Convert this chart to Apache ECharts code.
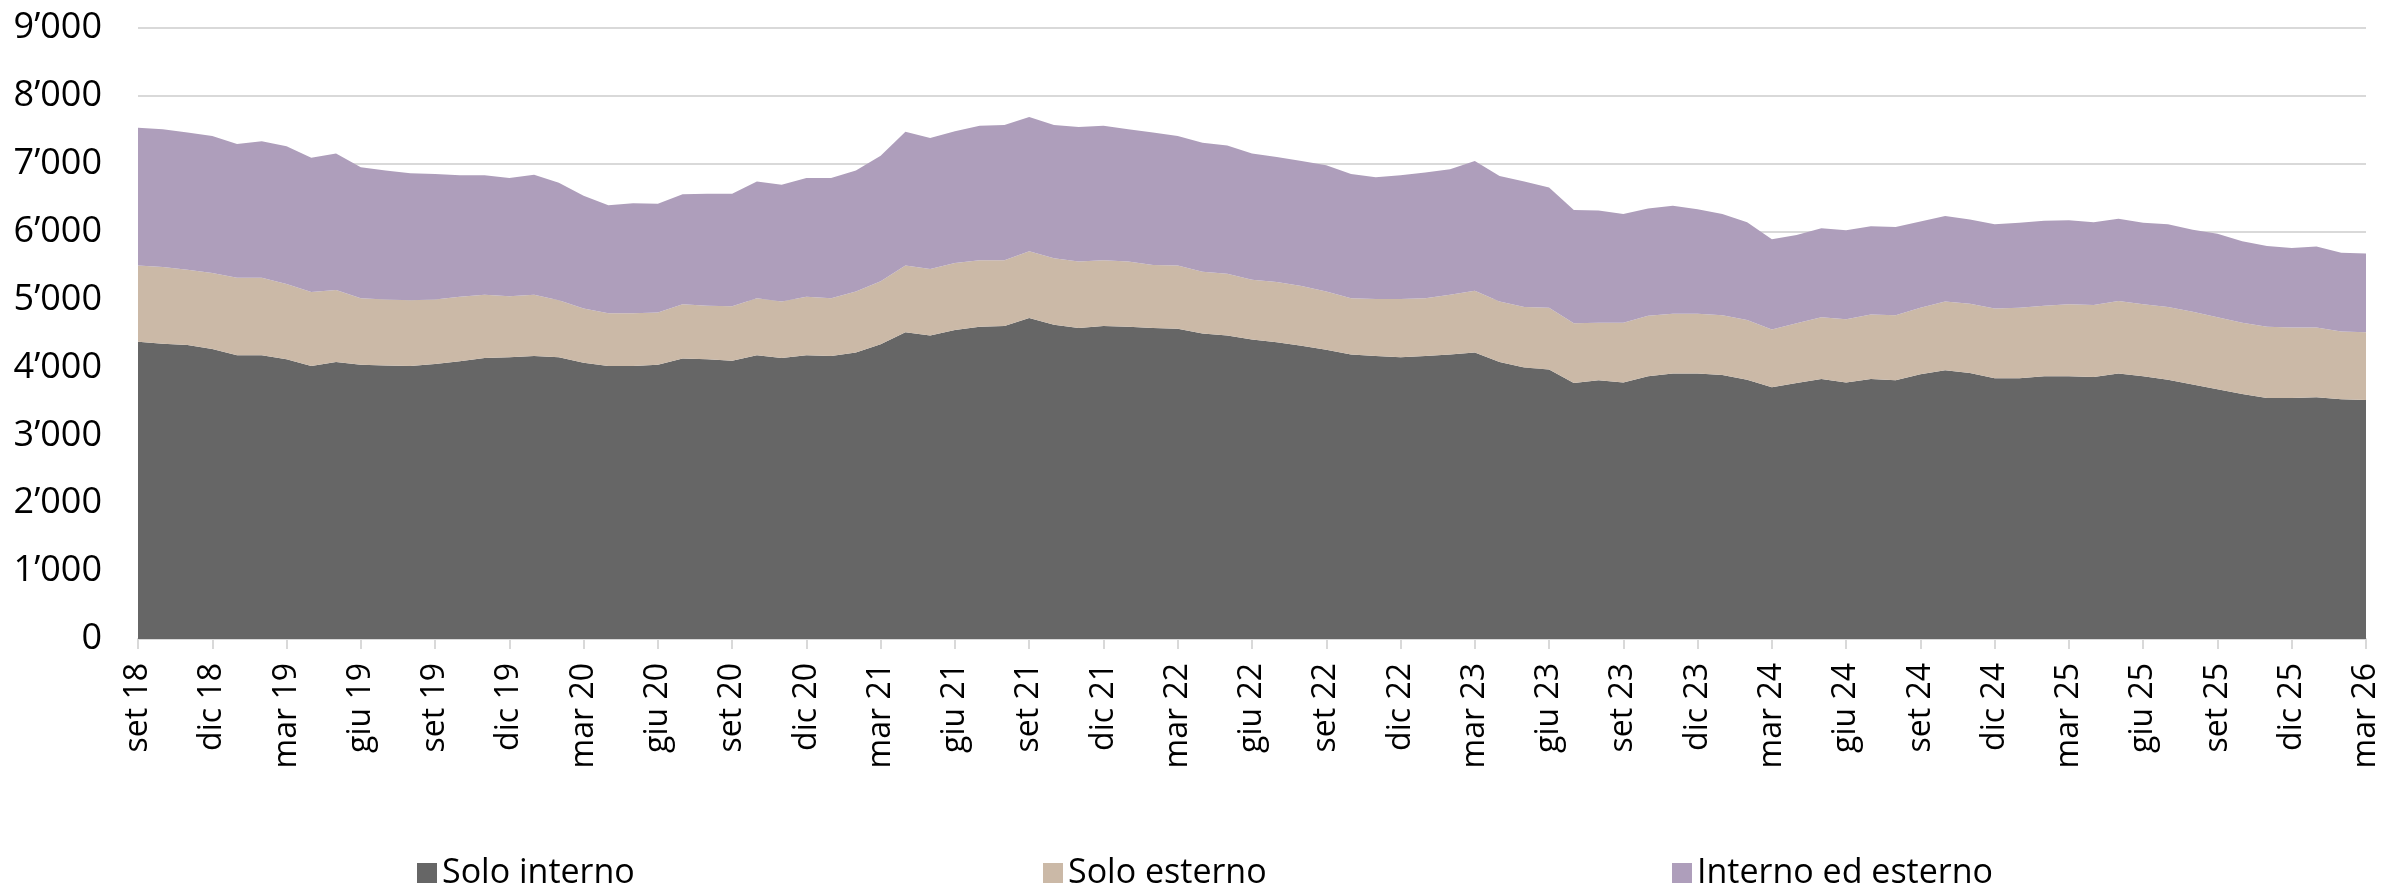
<!DOCTYPE html>
<html>
<head>
<meta charset="utf-8">
<script src="https://cdn.jsdelivr.net/npm/echarts@6/dist/echarts.min.js"></script>
<style>
html,body{margin:0;padding:0;background:#fff;}
#chart{width:2384px;height:889px;}
</style>
</head>
<body>
<div id="chart"></div>
<script>
const categories = [
  "set 18","ott 18","nov 18","dic 18",
  "gen 19","feb 19","mar 19","apr 19","mag 19","giu 19","lug 19","ago 19","set 19","ott 19","nov 19","dic 19",
  "gen 20","feb 20","mar 20","apr 20","mag 20","giu 20","lug 20","ago 20","set 20","ott 20","nov 20","dic 20",
  "gen 21","feb 21","mar 21","apr 21","mag 21","giu 21","lug 21","ago 21","set 21","ott 21","nov 21","dic 21",
  "gen 22","feb 22","mar 22","apr 22","mag 22","giu 22","lug 22","ago 22","set 22","ott 22","nov 22","dic 22",
  "gen 23","feb 23","mar 23","apr 23","mag 23","giu 23","lug 23","ago 23","set 23","ott 23","nov 23","dic 23",
  "gen 24","feb 24","mar 24","apr 24","mag 24","giu 24","lug 24","ago 24","set 24","ott 24","nov 24","dic 24",
  "gen 25","feb 25","mar 25","apr 25","mag 25","giu 25","lug 25","ago 25","set 25","ott 25","nov 25","dic 25",
  "gen 26","feb 26","mar 26"
];

const soloInterno = [
  4380,4350,4330,4270,4180,4180,4120,4020,4080,4040,4030,4020,4050,4090,4140,4150,
  4170,4150,4070,4020,4020,4040,4130,4120,4100,4180,4140,4180,
  4170,4220,4340,4520,4470,4550,4600,4610,4730,4630,4580,4610,
  4600,4580,4570,4500,4470,4410,4370,4320,4260,4190,4170,4150,
  4170,4190,4220,4080,4000,3970,3770,3810,3780,3870,3910,3910,
  3890,3820,3710,3770,3830,3780,3830,3810,3900,3960,3920,3840,
  3840,3870,3870,3860,3910,3870,3820,3750,3680,3610,3550,3550,
  3560,3530,3520
];

const soloEsterno = [
  1120,1130,1110,1120,1140,1140,1110,1090,1060,980,970,970,950,950,930,900,
  900,840,800,780,780,770,800,790,800,840,830,860,
  850,900,930,980,980,990,980,970,980,980,980,970,
  960,930,930,910,910,880,890,880,860,830,840,860,
  850,880,910,890,890,910,880,850,880,890,880,880,
  880,880,850,880,910,930,950,960,980,1010,1020,1030,
  1040,1040,1060,1060,1070,1060,1070,1070,1060,1050,1050,1040,
  1030,1000,1000
];

const internoEdEsterno = [
  2030,2030,2020,2020,1970,2010,2030,1980,2010,1930,1900,1870,1850,1790,1760,1740,
  1770,1730,1660,1590,1620,1600,1620,1650,1660,1720,1720,1750,
  1770,1780,1850,1970,1930,1940,1980,1990,1980,1960,1980,1980,
  1950,1950,1910,1900,1890,1860,1840,1840,1860,1830,1790,1820,
  1850,1850,1910,1850,1850,1770,1670,1650,1600,1580,1590,1540,
  1490,1440,1330,1300,1310,1310,1300,1300,1270,1260,1240,1240,
  1250,1250,1240,1220,1210,1200,1220,1210,1230,1200,1190,1170,
  1190,1160,1160
];

const seriesNames = ["Solo interno","Solo esterno","Interno ed esterno"];
const seriesColors = ["#666666","#cbb9a7","#ae9ebb"];
const seriesData = [soloInterno, soloEsterno, internoEdEsterno];

const fontFam = "'Open Sans', 'Noto Sans', sans-serif";

function fmt(v){
  return String(v).replace(/\B(?=(\d{3})+(?!\d))/g, '\u2019');
}

const chart = echarts.init(document.getElementById('chart'), null, {renderer:'canvas'});

const legendLefts = [417, 1043, 1672];

chart.setOption({
  animation:false,
  backgroundColor:'#ffffff',
  textStyle:{fontFamily:fontFam},
  grid:{left:138, right:18, top:28, bottom:250, containLabel:false},
  legend: seriesNames.map((n,i)=>({
    data:[n],
    left:legendLefts[i],
    top:856,
    itemWidth:20,
    itemHeight:20,
    itemGap:10,
    icon:'rect',
    textStyle:{fontSize:34, color:'#000', fontFamily:fontFam, lineHeight:34, padding:[0,0,0,0]},
    padding:0
  })),
  xAxis:{
    type:'category',
    data:categories,
    boundaryGap:false,
    axisLine:{show:true, lineStyle:{color:'#d9d9d9', width:2}},
    axisTick:{show:true, interval:2, length:10, lineStyle:{color:'#d9d9d9', width:2}},
    axisLabel:{interval:2, rotate:90, margin:24, fontSize:32, color:'#000', fontFamily:fontFam},
    splitLine:{show:false}
  },
  yAxis:{
    type:'value',
    min:0, max:9000, interval:1000,
    axisLine:{show:false},
    axisTick:{show:false},
    axisLabel:{fontSize:36, color:'#000', margin:36, fontFamily:fontFam, formatter:fmt},
    splitLine:{show:true, lineStyle:{color:'#d9d9d9', width:2}}
  },
  series: seriesNames.map((n,i)=>({
    name:n,
    type:'line',
    stack:'total',
    data:seriesData[i],
    symbol:'none',
    showSymbol:false,
    smooth:false,
    lineStyle:{width:0},
    itemStyle:{color:seriesColors[i]},
    areaStyle:{color:seriesColors[i], opacity:1},
    z: 2
  }))
});
</script>
</body>
</html>
